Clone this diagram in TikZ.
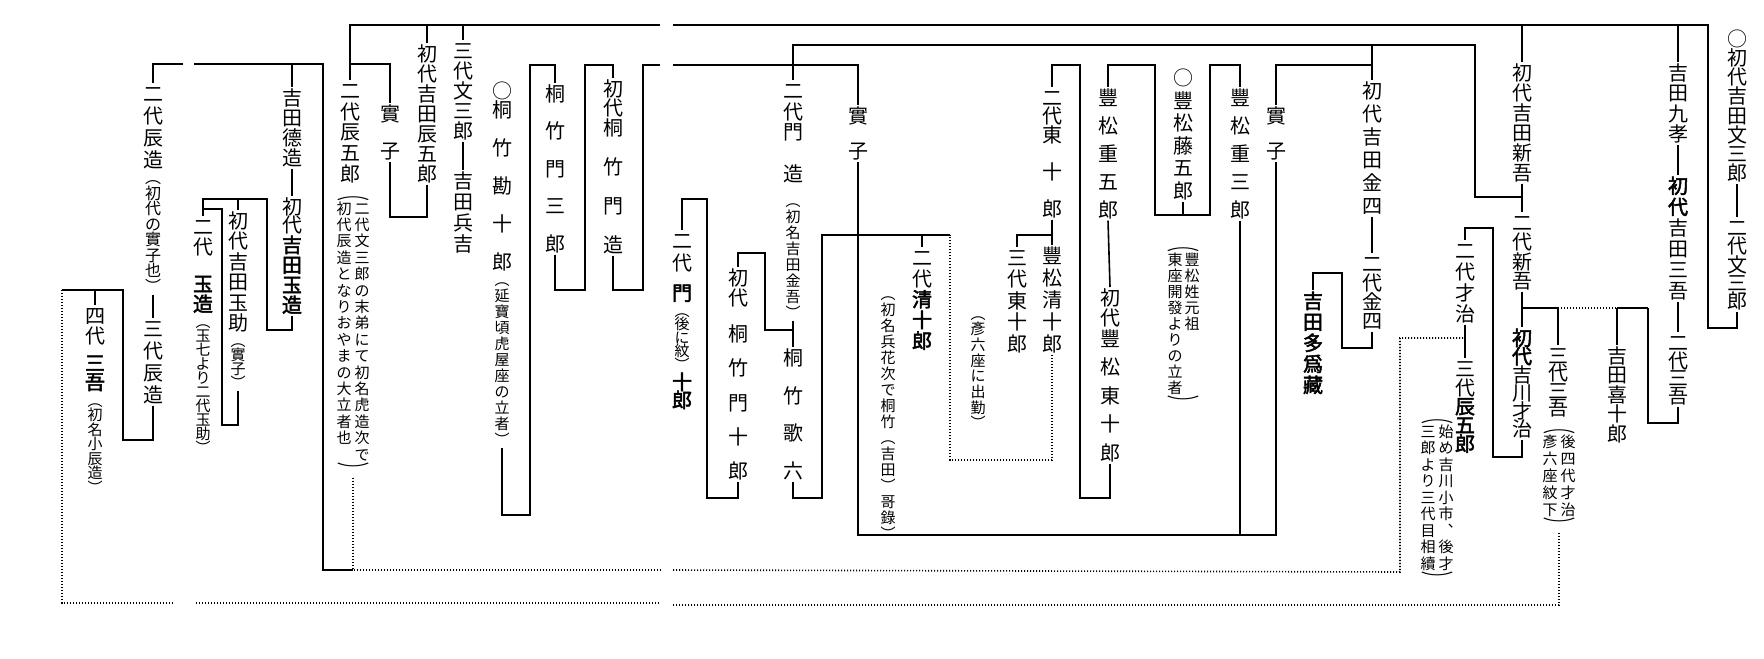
\documentclass[tikz,border=0pt]{standalone}
\usepackage{fontspec}
\usepackage{graphicx}
\newfontfamily\jp[AutoFakeBold=2.5]{Noto Sans CJK JP}
\usetikzlibrary{calc}

% one column of upright characters, #1 = pitch in px
\newdimen\vcunit \vcunit=0.5pt
\makeatletter
\newcommand\vcol[2]{\vbox{\baselineskip=#1\vcunit\lineskiplimit=-\maxdimen\lineskip=0pt
  \@tfor\vc@ch:=#2\do{\hbox to 1em{\hss\vrule height .88em depth .12em width 0pt\vc@ch\hss}}}}
\makeatother
\newcommand\wparo{\scalebox{2.2}[1]{︵}}
\newcommand\wparc{\scalebox{2.2}[1]{︶}}

\tikzset{
  nm/.style={anchor=north, inner sep=0pt, font=\fontsize{10pt}{10pt}\jp},
  sm/.style={anchor=north, inner sep=0pt, font=\fontsize{7.5pt}{7.5pt}\jp},
  bd/.style={nm, font=\fontsize{10pt}{10pt}\jp\bfseries},
  dotln/.style={dash pattern=on 0.6pt off 0.9pt},
}

\begin{document}
\begin{tikzpicture}[x=0.5pt, y=-0.5pt, line width=0.8pt]
  \useasboundingbox (0,0) rectangle (1764,658);
  \coordinate (busA) at (0,25);
  \coordinate (busB) at (0,45);
  \coordinate (busC) at (0,65);

  % right part
  \node[nm] (bunza1) at (1737,28) {\vcol{19.2}{○初代吉田文三郎}};
  \node[nm] (bunza2) at (1737,217) {\vcol{18.3}{二代文三郎}};
  \node[nm] (kyuko) at (1678,62) {\vcol{20.3}{吉田九孝}};
  \node[nm] (sango1) at (1678,175) {\vcol{21}{{\bfseries 初}{\bfseries 代}吉田三吾}};
  \node[nm] (sango2) at (1678,332) {\vcol{17.7}{二代三吾}};
  \node[nm] (kijuro) at (1617,345) {\vcol{19.5}{吉田喜十郎}};
  \node[nm] (sango3) at (1558,345) {\vcol{17.5}{三代三吾}};
  \node[sm] (sango3o) at (1559,418) {\vcol{17}{\wparo}};
  \node[sm] (sango3r) at (1568,433) {\vcol{17}{後四代才治}};
  \node[sm] (sango3l) at (1550,433) {\vcol{17}{彥六座紋下}};
  \node[sm] (sango3c) at (1559,516) {\vcol{17}{\wparc}};
  \node[nm] (shingo1) at (1522,62) {\vcol{20}{初代吉田新吾}};
  \node[nm] (shingo2) at (1522,212) {\vcol{19.3}{二代新吾}};
  \node[nm] (saiji1) at (1522,327) {\vcol{18.3}{{\bfseries 初}{\bfseries 代}吉川才治}};
  \node[nm] (saiji2) at (1465,240) {\vcol{21}{二代才治}};
  \node[nm] (tatsugoro3) at (1465,358) {\vcol{18.7}{三代{\bfseries 辰}{\bfseries 五}{\bfseries 郎}}};
  \node[sm] (tg3o) at (1437,408) {\vcol{16.5}{\wparo}};
  \node[sm] (tg3r) at (1446,423) {\vcol{16.5}{始め吉川小市︑後才}};
  \node[sm] (tg3l) at (1428,423) {\vcol{16.5}{三郎より三代目相續}};
  \node[sm] (tg3c) at (1437,570) {\vcol{16.5}{\wparc}};

  % middle part
  \node[nm] (kinshi1) at (1372,80) {\vcol{23}{初代吉田金四}};
  \node[nm] (kinshi2) at (1372,253) {\vcol{19}{二代金四}};
  \node[bd] (taizo) at (1313,290) {\vcol{21}{吉田多爲藏}};
  \node[nm] (jitsuA) at (1276,105) {\vcol{35}{實子}};
  \node[nm] (jusaburo) at (1240,87) {\vcol{28}{豐松重三郎}};
  \node[nm] (togoro) at (1183,67) {\vcol{22.6}{○豐松藤五郎}};
  \node[sm] (togoroo) at (1183,236) {\vcol{16}{\wparo}};
  \node[sm] (togoror) at (1192,251) {\vcol{16}{豐松姓元祖}};
  \node[sm] (togorol) at (1175,251) {\vcol{16}{東座開發よりの立者}};
  \node[sm] (togoroc) at (1183,394) {\vcol{16}{\wparc}};
  \node[nm] (jugoro) at (1108,87) {\vcol{28}{豐松重五郎}};
  \node[nm] (tojuA1) at (1110,287) {\vcol{20}{初代}};
  \node[nm] (tojuA2) at (1110,328) {\vcol{28.5}{豐松東十郎}};
  \node[nm] (tojuB) at (1052,87) {\vcol{18.5}{二代東{}十{}郎}};
  \node[nm] (tojuC) at (1017,247) {\vcol{21.5}{三代東十郎}};
  \node[sm] (tojuCn) at (978,305) {\vcol{15.7}{︵彥六座に出勤︶}};
  \node[nm] (seijuA) at (1052,245) {\vcol{22}{豐松清十郎}};
  \node[nm] (jitsuB) at (858,105) {\vcol{35}{實子}};
  \node[nm] (seijuB) at (922,247) {\vcol{20.7}{二代{\bfseries 清}{\bfseries 十}{\bfseries 郎}}};
  \node[sm] (seijuBn) at (888,285) {\vcol{16}{︵初名兵花次で桐竹︵吉田︶哥錄︶}};
  \node[nm] (monzo2) at (793,80) {\vcol{20.7}{二代門{}造}};
  \node[sm] (monzo2n) at (793,192) {\vcol{16}{︵初名吉田金吾︶}};
  \node[nm] (utaroku) at (793,347) {\vcol{37.7}{桐竹歌六}};
  \node[nm] (monjuA1) at (738,267) {\vcol{20}{初代}};
  \node[nm] (monjuA2) at (738,323) {\vcol{34.3}{桐竹門十郎}};
  \node[nm] (monjuB1) at (682,230) {\vcol{22}{二代}};
  \node[bd] (monjuB2) at (682,282) {\vcol{20}{門}};
  \node[sm] (monjuB3) at (682,302) {\vcol{13.5}{︵後に紋︶}};
  \node[bd] (monjuB4) at (682,371) {\vcol{18}{十郎}};

  % left part
  \node[nm] (monzo1) at (613,78) {\vcol{19.5}{初代桐{}竹{}門{}造}};
  \node[nm] (monsaburo) at (555,83) {\vcol{37.5}{桐竹門三郎}};
  \node[nm] (kanjuro) at (502,80) {\vcol{19}{○桐{}竹{}勘{}十{}郎}};
  \node[sm] (kanjuron) at (502,271) {\vcol{16}{︵延寶頃虎屋座の立者︶}};
  \node[nm] (bunza3) at (463,40) {\vcol{20}{三代文三郎}};
  \node[nm] (hyokichi) at (463,170) {\vcol{21}{吉田兵吉}};
  \node[nm] (tatsugoro1) at (427,43) {\vcol{20}{初代吉田辰五郎}};
  \node[nm] (jitsuC) at (390,103) {\vcol{37}{實子}};
  \node[nm] (tatsugoro2) at (350,80) {\vcol{20.7}{二代辰五郎}};
  \node[sm] (tg2o) at (353,185) {\vcol{16.4}{\wparo}};
  \node[sm] (tg2r) at (362,200) {\vcol{16.4}{二代文三郎の末弟にて初名虎造次で}};
  \node[sm] (tg2l) at (344,200) {\vcol{16.4}{初代辰造となりおやまの大立者也}};
  \node[sm] (tg2c) at (353,461) {\vcol{16.4}{\wparc}};
  \node[nm] (tokuzo) at (292,87) {\vcol{20}{吉田德造}};
  \node[nm] (tamazo1a) at (292,196) {\vcol{18}{初代}};
  \node[bd] (tamazo1b) at (292,234) {\vcol{20}{吉田玉造}};
  \node[nm] (tamasuke) at (238,210) {\vcol{20.4}{初代吉田玉助}};
  \node[sm] (tamasuken) at (238,332) {\vcol{14}{︵實子︶}};
  \node[nm] (tamazo2a) at (203,216) {\vcol{20}{二代}};
  \node[bd] (tamazo2b) at (203,273) {\vcol{20}{玉造}};
  \node[sm] (tamazo2n) at (203,313) {\vcol{14}{︵玉七より二代玉助︶}};
  \node[nm] (tatsuzo2) at (153,83) {\vcol{22}{二代辰造}};
  \node[sm, font=\fontsize{8pt}{8pt}\jp] (tatsuzo2n) at (153,169) {\vcol{15.5}{︵初代の實子也︶}};
  \node[nm] (tatsuzo3) at (153,318) {\vcol{22}{三代辰造}};
  \node[nm] (sango4a) at (95,305) {\vcol{20}{四代}};
  \node[bd] (sango4b) at (95,352) {\vcol{19}{三吾}};
  \node[sm] (sango4n) at (95,392) {\vcol{14.5}{︵初名小辰造︶}};

  % top lines
  \draw (bunza1.south) -- (bunza2.north);
  \draw (bunza2.south) |- (1708,328) -- (1708,25) -- (673,25);
  \draw (660,25) -| (tatsugoro2.north);
  \draw (tatsugoro1.north) -- (tatsugoro1.north |- busA);
  \draw (bunza3.north) -- (bunza3.north |- busA);
  \draw (shingo1.north) -- (shingo1.north |- busA);
  \draw (kyuko.north) -- (kyuko.north |- busA);
  \draw (kyuko.south) -- (sango1.north);
  \draw (sango1.south) -- (sango2.north);
  \draw (sango2.south) |- (1648,423) -- (1648,308);
  \draw (shingo1.south) -- (shingo2.north);
  \draw (shingo2.south) -- (saiji1.north);
  \draw (shingo2.south |- 0,308) -- (1558,308);
  \draw[dotln] (1558,308) -- (1617,308);
  \draw (1617,308) -- (1648,308);
  \draw (sango3.north) -- (sango3.north |- 0,308);
  \draw (kijuro.north) -- (kijuro.north |- 0,308);
  \draw (saiji1.south) |- (1493,457) -- (1493,228) -| (saiji2.north);
  \draw (saiji2.south) -- (tatsugoro3.north);
  \draw (monzo2.north) |- (1475,45) -- (1475,197) -- (shingo1.south |- 0,197);
  \draw (kinshi1.north) -- (kinshi1.north |- busB);
  \draw (jitsuA.north) |- (kinshi1.north |- busC);
  \draw (kinshi1.south) -- (kinshi2.north);
  \draw (kinshi2.south) |- (1342,348) -- (1342,273) -| (taizo.north);

  % toyomatsu lines
  \draw (jitsuA.south) |- (jitsuB.south |- 0,535) -- (jitsuB.south);
  \draw (jusaburo.south) -- (jusaburo.south |- 0,535);
  \draw (jusaburo.north) |- (1210,65) -- (1210,215) -- (1155,215) -- (1155,65) -| (jugoro.north);
  \draw (togoro.south) -- (togoro.south |- 0,215);
  \draw (jugoro.south) -- (tojuA1.north);
  \draw (tojuA2.south) |- (1080,498) -- (1080,65) -| (tojuB.north);
  \draw (tojuB.south) -- (seijuA.north);
  \draw (tojuB.south |- 0,235) -| (tojuC.north);
  \draw[dotln] (seijuA.south) |- (950,460) -- (950,235);
  \draw (950,235) -- (822,235) -- (822,498) -| (utaroku.south);
  \draw (seijuB.north) -- (seijuB.north |- 0,235);

  % kiritake lines
  \draw (673,65) -| (jitsuB.north);
  \draw (monzo2n.south) -- (utaroku.north);
  \draw (monzo2.south |- 0,330) -- (765,330) -- (765,253) -| (monjuA1.north);
  \draw (monjuA2.south) |- (707,498) -- (707,199) -| (monjuB1.north);
  \draw (monzo1.south) |- (643,290) -- (643,65) -- (660,65);
  \draw (monsaburo.south) |- (585,290) -- (585,65) -| (monzo1.north);
  \draw (kanjuron.south) |- (530,515) -- (530,65) -| (monsaburo.north);
  \draw (bunza3.south) -- (hyokichi.north);
  \draw (tatsugoro1.south) |- (390,217) -- (jitsuC.south);
  \draw (tatsugoro2.north |- 0,64) -| (jitsuC.north);

  % yoshida lines
  \draw (tatsuzo2.north) |- (183,64);
  \draw (194,64) -- (323,64) -- (323,570) -- (tg2c.south |- 0,570);
  \draw (tokuzo.north) -- (tokuzo.north |- 0,64);
  \draw (tokuzo.south) -- (tamazo1a.north);
  \draw (tamazo1b.south) |- (267,330) -- (267,199) -| (tamazo2a.north);
  \draw (tamasuke.north) -- (tamasuke.north |- 0,199);
  \draw (tamasuken.south) |- (222,425) -- (222,209) -- (tamazo2a.north |- 0,209);
  \draw (tatsuzo2n.south) -- (tatsuzo3.north);
  \draw (tatsuzo3.south) |- (123,440) -- (123,290) -- (62,290);
  \draw (sango4a.north) -- (sango4a.north |- 0,290);

  % dotted lines
  \draw[dotln] (tg2c.south) -- (tg2c.south |- 0,570) -- (660,570);
  \draw[dotln] (673,570) -- (1400,572) -- (1400,338) -- (saiji2.south |- 0,338);
  \draw[dotln] (62,290) -- (62,603) -- (173,603);
  \draw[dotln] (196,603) -- (660,603);
  \draw[dotln] (sango3c.south) -- (sango3c.south |- 0,605) -- (673,605);
\end{tikzpicture}
\end{document}
